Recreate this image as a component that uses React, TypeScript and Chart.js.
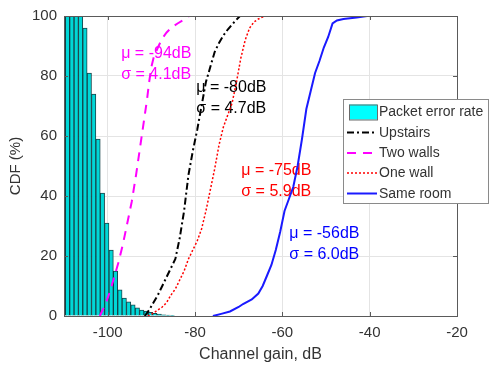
import React, { useEffect, useRef } from 'react';
import { Chart, registerables } from 'chart.js';
Chart.register(...registerables);

// Histogram (packet error rate), 1 dB bins
const binCenters = [-110.2, -109.2, -108.2, -107.2, -106.2, -105.2, -104.2, -103.2, -102.2, -101.2, -100.2, -99.2, -98.2, -97.2, -96.2, -95.2, -94.2, -93.2, -92.2, -91.2, -90.2, -89.2, -88.2, -87.2, -86.2, -85.2];
const packetErrorRate = [100, 100, 100, 100, 100, 96, 81, 74, 59, 41, 31, 22, 15, 8.7, 6, 4.7, 3.7, 2.7, 2, 1.6, 1.2, 0.9, 0.6, 0.4, 0.3, 0.2];

// CDF curves
const upstairsX = [-91.5, -90.5, -89.5, -88.5, -87.5, -86.5, -85.5, -84.5, -83.5, -82.5, -81.5, -80.5, -79.5, -79, -78.5, -77.5, -76.5, -75.5, -74.5, -73.5, -72.5, -71, -69.7];
const upstairsY = [0, 2, 4.5, 7, 10, 13, 16, 19, 26, 35, 47, 55, 62, 66, 70, 78, 83, 88, 91, 93.5, 95.5, 98, 100];

const twoWallsX = [-101.8, -100.5, -99.5, -98.5, -97.5, -96.5, -95.5, -94.5, -93.5, -92.5, -91.5, -91, -90.5, -90, -89.5, -88.5, -87.5, -86.5, -85.5, -84, -82.5, -81.3];
const twoWallsY = [0, 4, 8, 13, 18, 24, 31, 38, 47, 57, 67, 72, 78, 83, 86, 89.5, 92.5, 94.5, 96, 97.5, 98.8, 100];

const oneWallX = [-90.8, -89.5, -88.5, -87.5, -86.5, -85.5, -84.5, -83.5, -82.5, -81.5, -80.5, -79.5, -78.5, -77.5, -76.5, -75.5, -74.5, -73.5, -72.5, -71.5, -70.5, -69.5, -68.5, -67.5, -66.5, -65.5, -64];
const oneWallY = [0, 1, 2, 3, 4.5, 7, 9, 12, 15, 19, 22, 25, 29, 35, 42, 49, 57, 63, 67, 71, 78, 86, 92, 96, 98, 99, 100];

const sameRoomX = [-75.9, -74, -72, -70, -69, -67, -65.5, -64.5, -63.5, -62.5, -61.5, -60.5, -59.5, -58.5, -57.5, -56.5, -55.5, -54.5, -53.5, -52.5, -51.5, -50.5, -49.5, -48.5, -47.5, -46, -43, -40.6];
const sameRoomY = [0, 0.7, 1.5, 3, 4, 5.5, 7.5, 10, 13.5, 17, 22, 28, 35, 39, 43, 50, 59, 69, 75, 81, 85, 89.5, 93, 97.5, 98.5, 99, 99.5, 100];

const xTicks = [-100, -80, -60, -40, -20];
const yTicks = [0, 20, 40, 60, 80, 100];

const seriesLabels = ['Packet error rate', 'Upstairs', 'Two walls', 'One wall', 'Same room'];

const annotations = [
  { lines: ['μ = -94dB', 'σ = 4.1dB'], x: -96.9, y: 87.6, color: '#ff00ff' },
  { lines: ['μ = -80dB', 'σ = 4.7dB'], x: -79.7, y: 76.2, color: '#000000' },
  { lines: ['μ = -75dB', 'σ = 5.9dB'], x: -69.4, y: 48.4, color: '#ff0000' },
  { lines: ['μ = -56dB', 'σ = 6.0dB'], x: -58.4, y: 27.6, color: '#0000ff' },
];

const FONT = '"Liberation Sans", Arial, Helvetica, sans-serif';
const TEXT = '#333333';

const zip = (xs: number[], ys: number[]) => xs.map((x, i) => ({ x, y: ys[i] }));

const annotationPlugin = {
  id: 'annot',
  beforeDatasetsDraw(chart: any) {
    const { ctx, scales } = chart;
    ctx.save();
    ctx.font = `16px ${FONT}`;
    ctx.textAlign = 'left';
    ctx.textBaseline = 'middle';
    annotations.forEach((a) => {
      const px = scales.x.getPixelForValue(a.x);
      const py = scales.y.getPixelForValue(a.y);
      ctx.fillStyle = a.color;
      a.lines.forEach((t, i) => ctx.fillText(t, px, py + i * 21));
    });
    ctx.restore();
  },
};

const boxPlugin = {
  id: 'box',
  afterDatasetsDraw(chart: any) {
    const { ctx, chartArea: ca, scales } = chart;
    ctx.save();
    ctx.strokeStyle = '#5a5a5a';
    ctx.lineWidth = 1;
    ctx.strokeRect(Math.round(ca.left) + 0.5, Math.round(ca.top) + 0.5, Math.round(ca.right - ca.left), Math.round(ca.bottom - ca.top));
    ctx.beginPath();
    const tl = 4;
    xTicks.forEach((v) => {
      const px = Math.round(scales.x.getPixelForValue(v)) + 0.5;
      ctx.moveTo(px, ca.bottom); ctx.lineTo(px, ca.bottom - tl);
      ctx.moveTo(px, ca.top); ctx.lineTo(px, ca.top + tl);
    });
    yTicks.forEach((v) => {
      const py = Math.round(scales.y.getPixelForValue(v)) + 0.5;
      ctx.moveTo(ca.left, py); ctx.lineTo(ca.left + tl, py);
      ctx.moveTo(ca.right, py); ctx.lineTo(ca.right - tl, py);
    });
    ctx.stroke();
    ctx.restore();
  },
};

const legendPlugin = {
  id: 'customLegend',
  afterDraw(chart: any) {
    const { ctx } = chart;
    const ds = chart.data.datasets;
    const left = 343, top = 99, w = 145, h = 104;
    ctx.save();
    ctx.fillStyle = '#ffffff';
    ctx.fillRect(left, top, w, h);
    ctx.strokeStyle = '#8a8a8a';
    ctx.lineWidth = 1;
    ctx.strokeRect(left + 0.5, top + 0.5, w, h);
    ctx.font = `14px ${FONT}`;
    ctx.textBaseline = 'middle';
    ctx.textAlign = 'left';
    const rowY = [112, 132.5, 153, 173, 193.5];
    ds.forEach((d: any, i: number) => {
      const y = rowY[i];
      if (i === 0) {
        ctx.fillStyle = '#00ffff';
        ctx.fillRect(349, y - 7.5, 28, 15);
        ctx.strokeStyle = '#6a6a6a';
        ctx.strokeRect(349.5, y - 7, 28, 15);
      } else {
        ctx.strokeStyle = d.borderColor;
        ctx.lineWidth = d.borderWidth;
        ctx.setLineDash(d.borderDash || []);
        ctx.beginPath();
        ctx.moveTo(347, y);
        ctx.lineTo(377, y);
        ctx.stroke();
        ctx.setLineDash([]);
      }
      ctx.fillStyle = TEXT;
      ctx.fillText(d.label, 379, y + 0.5);
    });
    ctx.restore();
  },
};

export default function App() {
  const ref = useRef<HTMLCanvasElement>(null);
  useEffect(() => {
    const canvas = ref.current!;
    const chart = new Chart(canvas, {
      type: 'bar',
      data: {
        datasets: [
          {
            type: 'bar',
            label: seriesLabels[0],
            data: zip(binCenters, packetErrorRate),
            backgroundColor: 'rgb(0,215,215)',
            borderColor: 'rgba(0,50,55,0.9)',
            borderWidth: 1,
            barPercentage: 1,
            categoryPercentage: 1,
            order: 5,
          } as any,
          {
            type: 'line',
            label: seriesLabels[1],
            data: zip(upstairsX, upstairsY),
            borderColor: '#000000',
            borderWidth: 2,
            borderDash: [7, 3, 2, 3],
            pointRadius: 0,
            fill: false,
            tension: 0,
            order: 1,
          } as any,
          {
            type: 'line',
            label: seriesLabels[2],
            data: zip(twoWallsX, twoWallsY),
            borderColor: '#ff00ff',
            borderWidth: 2,
            borderDash: [9, 7],
            pointRadius: 0,
            fill: false,
            tension: 0,
            order: 2,
          } as any,
          {
            type: 'line',
            label: seriesLabels[3],
            data: zip(oneWallX, oneWallY),
            borderColor: '#ff0000',
            borderWidth: 1.5,
            borderDash: [2, 2],
            pointRadius: 0,
            fill: false,
            tension: 0,
            order: 3,
          } as any,
          {
            type: 'line',
            label: seriesLabels[4],
            data: zip(sameRoomX, sameRoomY),
            borderColor: '#1a1aff',
            borderWidth: 2,
            pointRadius: 0,
            fill: false,
            tension: 0,
            order: 0,
          } as any,
        ],
      },
      options: {
        animation: false,
        responsive: false,
        maintainAspectRatio: false,
        layout: { padding: { top: 16, right: 41, left: 0, bottom: 0 } },
        plugins: { legend: { display: false }, tooltip: { enabled: false } },
        scales: {
          x: {
            type: 'linear',
            min: -110,
            max: -20,
            offset: false,
            afterBuildTicks: (s: any) => { s.ticks = xTicks.map((v) => ({ value: v })); },
            afterFit: (s: any) => { s.height = 51; },
            grid: { color: '#e4e4e4', drawTicks: false, offset: false },
            border: { display: false },
            ticks: { padding: 8, color: TEXT, font: { family: FONT, size: 15 }, maxRotation: 0 },
            title: { display: true, text: 'Channel gain, dB', color: TEXT, font: { family: FONT, size: 16 }, padding: { top: 0, bottom: 3 } },
          },
          y: {
            type: 'linear',
            min: 0,
            max: 100,
            afterBuildTicks: (s: any) => { s.ticks = yTicks.map((v) => ({ value: v })); },
            afterFit: (s: any) => { s.width = 64; },
            grid: { color: '#e4e4e4', drawTicks: false },
            border: { display: false },
            ticks: { padding: 7, color: TEXT, font: { family: FONT, size: 15 } },
            title: { display: true, text: 'CDF (%)', color: TEXT, font: { family: FONT, size: 15 }, padding: { top: 7, bottom: 0 } },
          },
        },
      } as any,
      plugins: [annotationPlugin, boxPlugin, legendPlugin],
    });
    return () => chart.destroy();
  }, []);
  return (
    <div style={{ position: 'fixed', left: 0, top: 0, width: 498, height: 367, background: '#ffffff' }}>
      <canvas ref={ref} width={498} height={367} style={{ width: 498, height: 367, display: 'block' }} />
    </div>
  );
}
